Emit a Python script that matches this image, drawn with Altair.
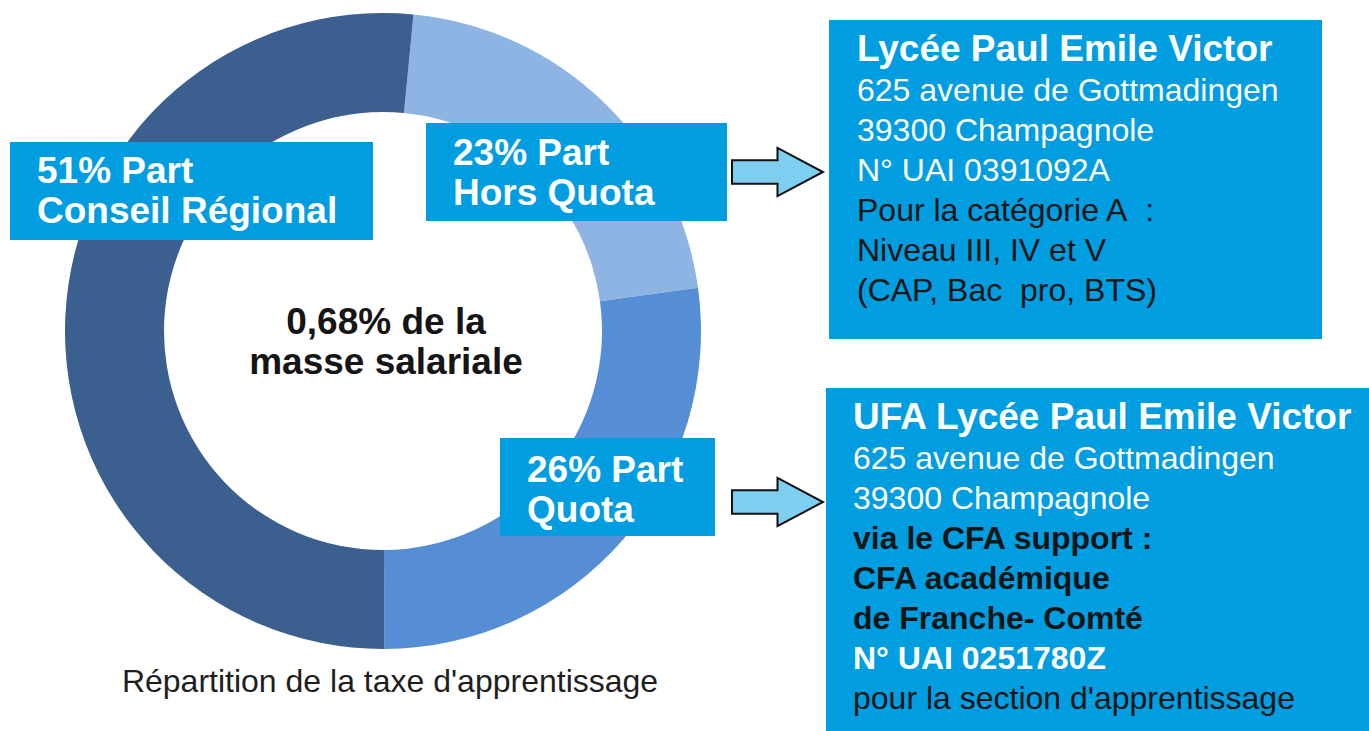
import math
import altair as alt
import pandas as pd

# ---------------- data ----------------
categories = ["Part Hors Quota", "Part Quota", "Part Conseil Régional"]
shares = [21.3, 27.1, 51.6]          # angular shares as drawn in the ring
slice_colors = ["#8EB4E3", "#558ED5", "#3B5F8F"]

label_hq = ["23% Part", "Hors Quota"]
label_q = ["26% Part", "Quota"]
label_cr = ["51% Part", "Conseil Régional"]
center_lines = ["0,68% de la", "masse salariale"]
caption = "Répartition de la taxe d'apprentissage"

box1_lines = [
    ("Lycée Paul Emile Victor", "white", "bold"),
    ("625 avenue de Gottmadingen", "white", "normal"),
    ("39300 Champagnole", "white", "normal"),
    ("N° UAI 0391092A", "white", "normal"),
    ("Pour la catégorie A\u00a0 :", "black", "normal"),
    ("Niveau III, IV et V", "black", "normal"),
    ("(CAP, Bac\u00a0 pro, BTS)", "black", "normal"),
]
box2_lines = [
    ("UFA Lycée Paul Emile Victor", "white", "bold"),
    ("625 avenue de Gottmadingen", "white", "normal"),
    ("39300 Champagnole", "white", "normal"),
    ("via le CFA support :", "black", "bold"),
    ("CFA académique", "black", "bold"),
    ("de Franche- Comté", "black", "bold"),
    ("N° UAI 0251780Z", "white", "bold"),
    ("pour la section d'apprentissage", "black", "normal"),
]

# ---------------- layout ----------------
W, H = 1369, 731
CX, CY, R_OUT, R_IN = 383, 331, 318, 219
START = math.radians(5.5)
FONT = "Liberation Sans"
BOX_BLUE = "#009DE0"
INK = "#151515"
WHITE = "#FFFFFF"
ARROW_PATH = "M-1,-0.26 L0,-0.26 L0,-0.53 L1,0 L0,0.53 L0,0.26 L-1,0.26 Z"

donut_df = pd.DataFrame({"category": categories, "share": shares, "order": [0, 1, 2]})

boxes = pd.DataFrame([
    {"x": 10, "x2": 373, "y": 142, "y2": 240},
    {"x": 426, "x2": 727, "y": 123, "y2": 221},
    {"x": 500, "x2": 715, "y": 438, "y2": 536},
    {"x": 829, "x2": 1322, "y": 20, "y2": 339},
    {"x": 826, "x2": 1369, "y": 388, "y2": 731},
])

arrows = pd.DataFrame([{"x": 777.5, "y": 172}, {"x": 777.5, "y": 502}])

rows = []
def add_block(lines, x, y0, size, color, weight, step=40, align="left"):
    for i, t in enumerate(lines):
        rows.append({"text": t, "x": x, "y": y0 + i * step, "size": size,
                     "color": color, "weight": weight, "align": align})

add_block(label_cr, 37, 183, 37, WHITE, "bold")
add_block(label_hq, 453, 165, 37, WHITE, "bold")
add_block(label_q, 527, 482, 37, WHITE, "bold")
add_block(center_lines, 386, 334, 37, INK, "bold", align="center")
add_block([caption], 390, 692, 32, "#1E1E1E", "normal", align="center")

for i, (t, c, w) in enumerate(box1_lines):
    rows.append({"text": t, "x": 857, "y": 61 + i * 40,
                 "size": 37 if i == 0 else 32,
                 "color": WHITE if c == "white" else INK, "weight": w, "align": "left"})
for i, (t, c, w) in enumerate(box2_lines):
    rows.append({"text": t, "x": 853, "y": 429 + i * 40,
                 "size": 37 if i == 0 else 32,
                 "color": WHITE if c == "white" else INK, "weight": w, "align": "left"})
texts = pd.DataFrame(rows)

# ---------------- chart ----------------
donut = alt.Chart(donut_df).mark_arc(
    outerRadius=R_OUT, innerRadius=R_IN, strokeWidth=0
).encode(
    theta=alt.Theta("share:Q", stack=True,
                    scale=alt.Scale(range=[START, START + 2 * math.pi])),
    order=alt.Order("order:Q"),
    color=alt.Color("category:N",
                    scale=alt.Scale(domain=categories, range=slice_colors),
                    legend=None),
    x=alt.value(CX),
    y=alt.value(CY),
)

rects = alt.Chart(boxes).mark_rect(color=BOX_BLUE).encode(
    x=alt.X("x:Q", scale=None, axis=None),
    x2="x2:Q",
    y=alt.Y("y:Q", scale=None, axis=None),
    y2="y2:Q",
)

arrow_marks = alt.Chart(arrows).mark_point(
    shape=ARROW_PATH, size=91 * 91, filled=True, fill="#7ECEF0",
    stroke="#111111", strokeWidth=2, opacity=1, fillOpacity=1, strokeOpacity=1
).encode(
    x=alt.X("x:Q", scale=None, axis=None),
    y=alt.Y("y:Q", scale=None, axis=None),
)

def text_layer(weight, align):
    sub = texts[(texts["weight"] == weight) & (texts["align"] == align)]
    return alt.Chart(sub).mark_text(
        font=FONT, fontWeight=weight, align=align, baseline="alphabetic"
    ).encode(
        x=alt.X("x:Q", scale=None, axis=None),
        y=alt.Y("y:Q", scale=None, axis=None),
        text="text:N",
        size=alt.Size("size:Q", scale=None, legend=None),
        color=alt.Color("color:N", scale=None, legend=None),
    )

layers = [donut, rects, arrow_marks]
for w in ["bold", "normal"]:
    for a in ["left", "center"]:
        if ((texts["weight"] == w) & (texts["align"] == a)).any():
            layers.append(text_layer(w, a))

chart = alt.layer(*layers).properties(
    width=W, height=H, padding=0,
    autosize=alt.AutoSizeParams(type="none"),
    background="white",
).configure_view(strokeWidth=0)

chart.save("out.html", embed_options={"renderer": "svg", "actions": False})
